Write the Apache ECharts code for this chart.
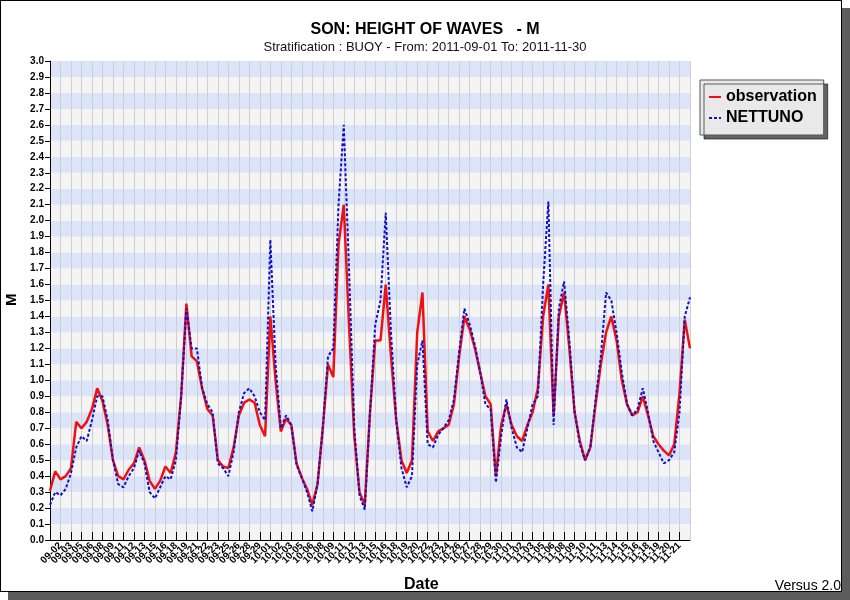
<!DOCTYPE html>
<html>
<head>
<meta charset="utf-8">
<script src="https://cdn.jsdelivr.net/npm/echarts@6/dist/echarts.min.js"></script>
<style>
  body { margin: 0; background: #fff; }
  .frame { position: absolute; left: 0; top: 0; width: 840px; height: 590px;
           border: 1px solid #000; box-shadow: 8px 8px 0 #5c5c5c; background: #fff; }
  #chart { position: absolute; left: 0; top: 0; width: 850px; height: 600px; }
</style>
</head>
<body>
<div class="frame"></div>
<div id="chart"></div>
<script>
// tick labels of the date axis (one per tick)
const dateTicks = ['09-01','09-02','09-03','09-05','09-06','09-08','09-09','09-11','09-12','09-13',
  '09-15','09-16','09-18','09-19','09-21','09-22','09-23','09-25','09-26','09-28',
  '09-29','10-01','10-02','10-03','10-05','10-06','10-08','10-09','10-11','10-12',
  '10-13','10-15','10-16','10-18','10-19','10-20','10-22','10-23','10-24','10-26',
  '10-27','10-28','10-29','10-30','11-01','11-02','11-03','11-05','11-06','11-08',
  '11-09','11-10','11-11','11-13','11-14','11-15','11-16','11-18','11-19','11-20','11-21'];

// samples every half tick
const sampleStep = 0.5;

const observation = [0.31,0.43,0.38,0.40,0.45,0.74,0.70,0.74,0.82,0.95,
  0.87,0.72,0.50,0.40,0.38,0.44,0.48,0.58,0.50,0.37,
  0.32,0.37,0.46,0.42,0.55,0.90,1.48,1.15,1.12,0.95,
  0.82,0.78,0.50,0.46,0.45,0.58,0.78,0.86,0.88,0.86,
  0.72,0.65,1.40,1.00,0.68,0.76,0.72,0.48,0.39,0.32,
  0.22,0.35,0.70,1.10,1.02,1.85,2.10,1.35,0.65,0.30,
  0.22,0.80,1.25,1.25,1.60,1.15,0.75,0.50,0.42,0.50,
  1.30,1.55,0.68,0.62,0.68,0.70,0.72,0.85,1.15,1.40,
  1.32,1.20,1.05,0.90,0.85,0.40,0.72,0.85,0.72,0.65,
  0.62,0.72,0.80,0.95,1.40,1.60,0.78,1.40,1.55,1.20,
  0.80,0.62,0.50,0.58,0.85,1.10,1.30,1.40,1.25,1.00,
  0.85,0.78,0.80,0.90,0.78,0.65,0.60,0.56,0.53,0.60,
  0.92,1.38,1.20];

const nettuno = [0.22,0.30,0.28,0.32,0.42,0.58,0.65,0.62,0.75,0.90,
  0.90,0.75,0.50,0.35,0.33,0.40,0.45,0.56,0.48,0.30,
  0.26,0.33,0.40,0.38,0.50,0.90,1.45,1.20,1.20,0.95,
  0.85,0.80,0.48,0.45,0.40,0.55,0.80,0.92,0.95,0.90,
  0.80,0.75,1.88,1.10,0.70,0.78,0.72,0.47,0.39,0.30,
  0.18,0.35,0.70,1.15,1.20,2.10,2.60,1.70,0.70,0.28,
  0.19,0.80,1.35,1.50,2.05,1.30,0.75,0.45,0.33,0.40,
  1.10,1.25,0.60,0.58,0.66,0.70,0.75,0.88,1.18,1.45,
  1.35,1.22,1.05,0.85,0.82,0.36,0.65,0.88,0.70,0.58,
  0.55,0.70,0.85,0.90,1.60,2.12,0.72,1.45,1.62,1.25,
  0.80,0.60,0.50,0.58,0.88,1.15,1.55,1.50,1.30,1.05,
  0.85,0.78,0.82,0.95,0.80,0.62,0.55,0.48,0.50,0.55,
  0.80,1.40,1.52];

const toPairs = arr => arr.map((v, i) => [i * sampleStep, v]);

const chart = echarts.init(document.getElementById('chart'));
const font = 'Liberation Sans, Arial, sans-serif';

chart.setOption({
  animation: false,
  title: {
    text: 'SON: HEIGHT OF WAVES   - M',
    subtext: 'Stratification : BUOY - From: 2011-09-01 To: 2011-11-30',
    left: 'center',
    top: 17,
    itemGap: 3,
    textStyle: { fontFamily: font, fontSize: 16, fontWeight: 'bold', color: '#000' },
    subtextStyle: { fontFamily: font, fontSize: 13, color: '#111' }
  },
  legend: {
    orient: 'vertical',
    left: 700,
    top: 80,
    width: 110,
    padding: [9, 7, 9, 8],
    itemGap: 5,
    itemWidth: 12,
    itemHeight: 10,
    backgroundColor: '#e9e9e9',
    borderColor: '#555',
    borderWidth: 1,
    shadowColor: 'rgba(0,0,0,0.6)',
    shadowOffsetX: 4,
    shadowOffsetY: 4,
    itemStyle: { opacity: 0 },
    textStyle: { fontFamily: font, fontSize: 16, fontWeight: 'bold', color: '#000' },
    data: ['observation', 'NETTUNO']
  },
  grid: { left: 50, right: 160, top: 61, bottom: 60 },
  xAxis: {
    type: 'value',
    min: 0,
    max: 61,
    interval: 1,
    axisLine: { lineStyle: { color: '#000', width: 1 } },
    axisTick: { inside: true, length: 8, lineStyle: { color: '#000' } },
    splitLine: { show: true, lineStyle: { color: '#cfcfcf', width: 1 } },
    axisLabel: {
      rotate: 45,
      fontFamily: font,
      fontSize: 10,
      fontWeight: 'bold',
      color: '#000',
      margin: 4,
      showMaxLabel: false,
      formatter: v => dateTicks[v] || ''
    }
  },
  yAxis: {
    type: 'value',
    min: 0,
    max: 3,
    interval: 0.1,
    axisLine: { show: true, lineStyle: { color: '#000' } },
    axisTick: { show: true, length: 5, lineStyle: { color: '#000' } },
    splitLine: { show: false },
    splitArea: { show: true, areaStyle: { color: ['#f4f4f4', '#dce4fa'] } },
    axisLabel: {
      fontFamily: font,
      fontSize: 10,
      fontWeight: 'bold',
      color: '#000',
      margin: 6,
      formatter: v => v.toFixed(1)
    }
  },
  graphic: [
    { type: 'text', left: 404, top: 577,
      style: { text: 'Date', font: 'bold 16px ' + font, fill: '#000' } },
    { type: 'text', x: 4, y: 306, rotation: Math.PI / 2,
      style: { text: 'M', font: 'bold 15px ' + font, fill: '#000' } },
    { type: 'text', right: 9, top: 579,
      style: { text: 'Versus 2.0', font: '14px ' + font, fill: '#000' } }
  ],
  series: [
    {
      name: 'observation',
      type: 'line',
      showSymbol: false,
      symbol: 'none',
      data: toPairs(observation),
      lineStyle: { color: '#ee1111', width: 2.5 },
      itemStyle: { color: '#ee1111' }
    },
    {
      name: 'NETTUNO',
      type: 'line',
      showSymbol: false,
      symbol: 'none',
      data: toPairs(nettuno),
      lineStyle: { color: '#1010cc', width: 2, type: [3, 2] },
      itemStyle: { color: '#1010cc' }
    }
  ]
});
</script>
</body>
</html>
